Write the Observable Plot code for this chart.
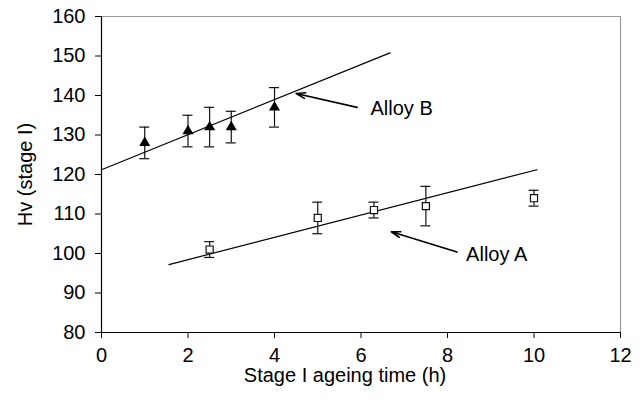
<!DOCTYPE html>
<html>
<head>
<meta charset="utf-8">
<script src="https://cdn.jsdelivr.net/npm/d3@7"></script>
<script src="https://cdn.jsdelivr.net/npm/@observablehq/plot@0.6"></script>
<style>
  html, body { margin: 0; padding: 0; background: #fff; }
  #chart svg { display: block; }
</style>
</head>
<body>
<div id="chart"></div>
<script>
// ---- data ----
const alloyBTime = [1, 2, 2.5, 3, 4];
const alloyBHv   = [128, 131, 132, 132, 137];
const alloyBErr  = [4, 4, 5, 4, 5];

const alloyATime = [2.5, 5, 6.3, 7.5, 10];
const alloyAHv   = [101, 109, 111, 112, 114];
const alloyAErr  = [2, 4, 2, 5, 2];

// trend line end points
const trendBTime = [0, 6.67];
const trendBHv   = [121.2, 150.8];
const trendATime = [1.56, 10.07];
const trendAHv   = [97.2, 121.2];

// annotations
const annLabels = ["Alloy B", "Alloy A"];
const annLabelX = [6.22, 8.43];
const annLabelY = [136.7, 99.7];
const annTailX  = [5.91, 8.22];
const annTailY  = [137.0, 100.4];
const annHeadX  = [4.50, 6.70];
const annHeadY  = [140.5, 105.5];

const xTicks = [0, 2, 4, 6, 8, 10, 12];
const yTicks = [80, 90, 100, 110, 120, 130, 140, 150, 160];
const xLabel = "Stage I ageing time (h)";
const yLabel = "Hv (stage I)";

// ---- tables ----
const B = alloyBTime.map((x, i) => ({x, y: alloyBHv[i], e: alloyBErr[i]}));
const A = alloyATime.map((x, i) => ({x, y: alloyAHv[i], e: alloyAErr[i]}));
const trendB = trendBTime.map((x, i) => ({x, y: trendBHv[i]}));
const trendA = trendATime.map((x, i) => ({x, y: trendAHv[i]}));
const ann = annLabels.map((t, i) => ({t, lx: annLabelX[i], ly: annLabelY[i],
  x1: annTailX[i], y1: annTailY[i], x2: annHeadX[i], y2: annHeadY[i]}));

const font = "'Liberation Sans', Arial, Helvetica, sans-serif";

function errorBars(data) {
  return [
    Plot.ruleX(data, {x: "x", y1: d => d.y - d.e, y2: d => d.y + d.e, stroke: "#111", strokeWidth: 1.2}),
    Plot.ruleY(data, {x1: "x", x2: "x", y: d => d.y + d.e, insetLeft: -5, insetRight: -5, stroke: "#111", strokeWidth: 1.2}),
    Plot.ruleY(data, {x1: "x", x2: "x", y: d => d.y - d.e, insetLeft: -5, insetRight: -5, stroke: "#111", strokeWidth: 1.2})
  ];
}

const chart = Plot.plot({
  width: 644,
  height: 405,
  marginLeft: 101,
  marginRight: 24,
  marginTop: 16,
  marginBottom: 73,
  style: {fontFamily: font, background: "#fff", color: "#000"},
  x: {domain: [0, 12]},
  y: {domain: [80, 160]},
  marks: [
    // frame
    Plot.ruleY([160], {stroke: "#9a9a9a", strokeWidth: 1.2}),
    Plot.ruleX([12], {stroke: "#9a9a9a", strokeWidth: 1.2}),
    Plot.ruleX([0], {stroke: "#000", strokeWidth: 1.2}),
    Plot.ruleY([80], {stroke: "#000", strokeWidth: 1.2}),
    Plot.axisX({ticks: xTicks, tickSize: 6, tickPadding: 9, fontSize: 20, label: null, stroke: "#000"}),
    Plot.axisY({ticks: yTicks, tickSize: 6, tickPadding: 10, fontSize: 20, label: null, stroke: "#000"}),
    Plot.text([xLabel], {frameAnchor: "bottom", textAnchor: "middle", dx: -16, dy: 49, fontSize: 20, fill: "#000"}),
    Plot.text([yLabel], {frameAnchor: "left", textAnchor: "middle", dx: -76, dy: 0, rotate: -90, fontSize: 20, fill: "#000"}),
    // trend lines
    Plot.line(trendB, {x: "x", y: "y", stroke: "#000", strokeWidth: 1.2}),
    Plot.line(trendA, {x: "x", y: "y", stroke: "#000", strokeWidth: 1.2}),
    // error bars
    ...errorBars(B),
    ...errorBars(A),
    // markers
    Plot.dot(B, {x: "x", y: "y", symbol: "triangle", r: 4.1, fill: "#000", stroke: "none"}),
    Plot.dot(A, {x: "x", y: "y", symbol: "square", r: 4, fill: "#fff", stroke: "#111", strokeWidth: 1.2}),
    // annotations
    Plot.arrow(ann, {x1: "x1", y1: "y1", x2: "x2", y2: "y2", stroke: "#000", strokeWidth: 1.6, headLength: 9, headAngle: 35}),
    Plot.text(ann, {x: "lx", y: "ly", text: "t", textAnchor: "start", fontSize: 20, fill: "#000"})
  ]
});

document.getElementById("chart").appendChild(chart);
</script>
</body>
</html>
